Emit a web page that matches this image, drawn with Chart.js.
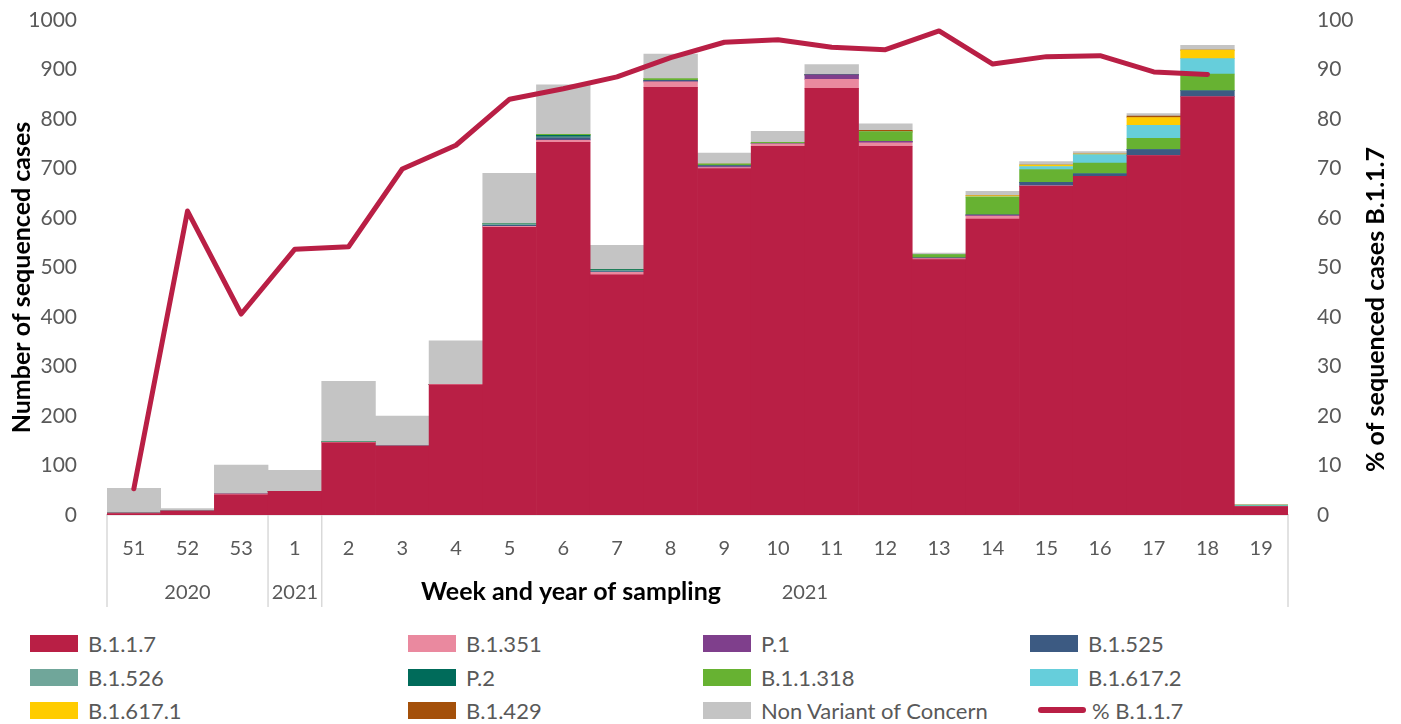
<!DOCTYPE html>
<html>
<head>
<meta charset="utf-8">
<script src="https://cdn.jsdelivr.net/npm/chart.js@4"></script>
<style>
  body { margin: 0; background: #fff; font-family: Lato, sans-serif; overflow: hidden; }
  #wrap { position: relative; width: 1401px; height: 724px; overflow: hidden; }
  #chart { position: absolute; left: 0; top: 0; }
  #legend { position: absolute; left: 0; top: 624px; width: 1401px; height: 100px; }
  .item { position: absolute; display: flex; align-items: center; font-size: 22px; color: #595959; white-space: nowrap; }
  .box { width: 48px; height: 17px; margin-right: 10px; }
  .ln { width: 48px; height: 6px; border-radius: 3px; margin-left: 8px; margin-right: 6px; }
</style>
</head>
<body>
<div id="wrap">
  <canvas id="chart" width="1401" height="620"></canvas>
  <div id="legend"></div>
</div>
<script>
// sampling weeks and the year rows under them
const weeks = ['51', '52', '53', '1', '2', '3', '4', '5', '6', '7', '8', '9', '10', '11', '12', '13', '14', '15', '16', '17', '18', '19'];
const yearLabels = ['2020', '2021', '2021'];
const yearSpans = [3, 1, 18];

// sequenced cases per variant
const b117    = [3, 8, 41, 48, 146, 139, 263, 581, 753, 485, 864, 700, 745, 862, 745, 516, 598, 664, 684, 726, 845, 17];
const b1351   = [1, 0, 2, 0, 1, 0, 1, 2, 4, 5, 11, 2, 5, 18, 7, 2, 6, 1, 0, 0, 0, 0];
const p1      = [0, 0, 0, 0, 0, 0, 0, 0, 1, 0, 0, 2, 0, 9, 3, 1, 2, 0, 0, 0, 0, 0];
const b1525   = [0, 0, 0, 0, 0, 0, 0, 2, 4, 2, 3, 2, 0, 0, 0, 0, 0, 7, 5, 12, 12, 0];
const b1526   = [0, 0, 0, 0, 1, 2, 0, 3, 2, 2, 0, 0, 0, 0, 0, 0, 0, 0, 0, 0, 0, 0];
const p2      = [0, 0, 0, 0, 0, 0, 0, 0, 3, 2, 0, 0, 0, 0, 0, 0, 0, 0, 0, 0, 0, 0];
const b11318  = [0, 0, 0, 0, 0, 0, 0, 0, 2, 0, 3, 3, 3, 1, 19, 7, 36, 26, 22, 23, 34, 1];
const b16172  = [0, 0, 0, 0, 0, 0, 0, 0, 0, 0, 0, 0, 0, 0, 0, 0, 1, 6, 17, 26, 31, 2];
const b16171  = [0, 0, 0, 0, 0, 0, 0, 0, 0, 0, 0, 0, 0, 0, 0, 0, 2, 3, 1, 16, 17, 0];
const b1429   = [0, 0, 0, 0, 0, 0, 0, 0, 0, 0, 0, 0, 0, 0, 3, 0, 0, 0, 0, 3, 0, 0];
const nonVoc  = [50, 5, 58, 42, 122, 59, 88, 102, 100, 49, 50, 22, 22, 20, 13, 3, 9, 7, 5, 5, 10, 1];

// share of B.1.1.7 among sequenced cases (%)
const pctB117 = [5.3, 61.4, 40.6, 53.7, 54.2, 69.9, 74.7, 84.0, 86.1, 88.5, 92.4, 95.5, 96.0, 94.5, 94.0, 97.8, 91.1, 92.6, 92.8, 89.5, 89.0, null];

const variants = [
  ['B.1.1.7', b117, '#B91F45'],
  ['B.1.351', b1351, '#EA899F'],
  ['P.1', p1, '#7F3F8C'],
  ['B.1.525', b1525, '#3C5A82'],
  ['B.1.526', b1526, '#70A69A'],
  ['P.2', p2, '#006B5A'],
  ['B.1.1.318', b11318, '#67B232'],
  ['B.1.617.2', b16172, '#66CEDB'],
  ['B.1.617.1', b16171, '#FFCC00'],
  ['B.1.429', b1429, '#A4500A'],
  ['Non Variant of Concern', nonVoc, '#C4C4C4']
];

const barSets = variants.map(([label, data, color]) => ({
  type: 'bar',
  label,
  data,
  backgroundColor: color,
  borderWidth: 0,
  stack: 'cases',
  yAxisID: 'y',
  order: 1
}));

const lineSet = {
  type: 'line',
  label: '% B.1.1.7',
  data: pctB117,
  borderColor: '#B91F45',
  borderWidth: 5,
  pointRadius: 0,
  borderCapStyle: 'round',
  borderJoinStyle: 'round',
  tension: 0,
  yAxisID: 'y1',
  order: 0
};

// separators, year row and axis titles
const extras = {
  id: 'extras',
  afterDraw(chart) {
    const { ctx, chartArea, scales } = chart;
    const x = scales.x;
    const half = (x.getPixelForValue(1) - x.getPixelForValue(0)) / 2;
    const top = chartArea.bottom;
    const bottom = top + 92;
    ctx.save();
    ctx.strokeStyle = '#D9D9D9';
    ctx.lineWidth = 1.5;
    const edges = [x.getPixelForValue(0) - half];
    let i = 0;
    yearSpans.forEach(n => { i += n; edges.push(x.getPixelForValue(i - 1) + half); });
    edges.forEach(px => {
      ctx.beginPath();
      ctx.moveTo(px, top);
      ctx.lineTo(px, bottom);
      ctx.stroke();
    });
    ctx.fillStyle = '#595959';
    ctx.font = '20px Lato';
    ctx.textAlign = 'center';
    ctx.textBaseline = 'middle';
    yearLabels.forEach((lab, k) => {
      ctx.fillText(lab, (edges[k] + edges[k + 1]) / 2, top + 78);
    });
    ctx.fillStyle = '#000';
    ctx.font = 'bold 25px Lato';
    ctx.fillText('Week and year of sampling', 571, top + 77);

    // both axis titles read bottom to top
    const mid = (chartArea.top + chartArea.bottom) / 2;
    [['Number of sequenced cases', 22, mid + 10], ['% of sequenced cases B.1.1.7', 1376, mid + 42]].forEach(([t, tx, ty]) => {
      ctx.save();
      ctx.translate(tx, ty);
      ctx.rotate(-Math.PI / 2);
      ctx.fillText(t, 0, 0);
      ctx.restore();
    });
    ctx.restore();
  }
};

const tickFont = { family: 'Lato', size: 21 };

// fixed side widths and top gap for the value axes
const fitSide = w => s => {
  s.width = w;
  s.paddingTop = 20;
  s.paddingBottom = 0;
};

const chart = new Chart(document.getElementById('chart'), {
  data: { labels: weeks, datasets: [lineSet, ...barSets] },
  options: {
    responsive: false,
    animation: false,
    layout: { padding: 0 },
    datasets: { bar: { barPercentage: 1, categoryPercentage: 1 } },
    plugins: { legend: { display: false }, tooltip: { enabled: false } },
    scales: {
      x: {
        stacked: true,
        grid: { display: false },
        border: { display: true, color: '#D9D9D9', width: 1.5 },
        ticks: { color: '#595959', font: { family: 'Lato', size: 20 }, padding: 14, maxRotation: 0, autoSkip: false },
        afterFit: s => { s.height = 105; }
      },
      y: {
        stacked: true,
        position: 'left',
        min: 0,
        max: 1000,
        grid: { display: false },
        border: { display: false },
        ticks: { stepSize: 100, color: '#595959', font: tickFont, padding: 22, callback: v => String(v) },
        afterFit: fitSide(107)
      },
      y1: {
        position: 'right',
        min: 0,
        max: 100,
        grid: { display: false },
        border: { display: false },
        ticks: { stepSize: 10, color: '#595959', font: tickFont, padding: 21, callback: v => String(v) },
        afterFit: fitSide(113)
      }
    }
  },
  plugins: [extras]
});

// legend in four columns, built from the datasets
const legend = document.getElementById('legend');
const colX = [30, 408, 703, 1030];
const rowY = [19, 53, 86];
const entries = barSets.map(d => ({ label: d.label, color: d.backgroundColor, line: false }))
  .concat([{ label: lineSet.label, color: lineSet.borderColor, line: true }]);
entries.forEach((e, k) => {
  const el = document.createElement('div');
  el.className = 'item';
  el.style.left = colX[k % 4] + 'px';
  el.style.top = (rowY[Math.floor(k / 4)] - 12) + 'px';
  el.style.height = '24px';
  el.innerHTML = `<span class="${e.line ? 'ln' : 'box'}" style="background:${e.color}"></span>${e.label}`;
  legend.appendChild(el);
});
</script>
</body>
</html>
